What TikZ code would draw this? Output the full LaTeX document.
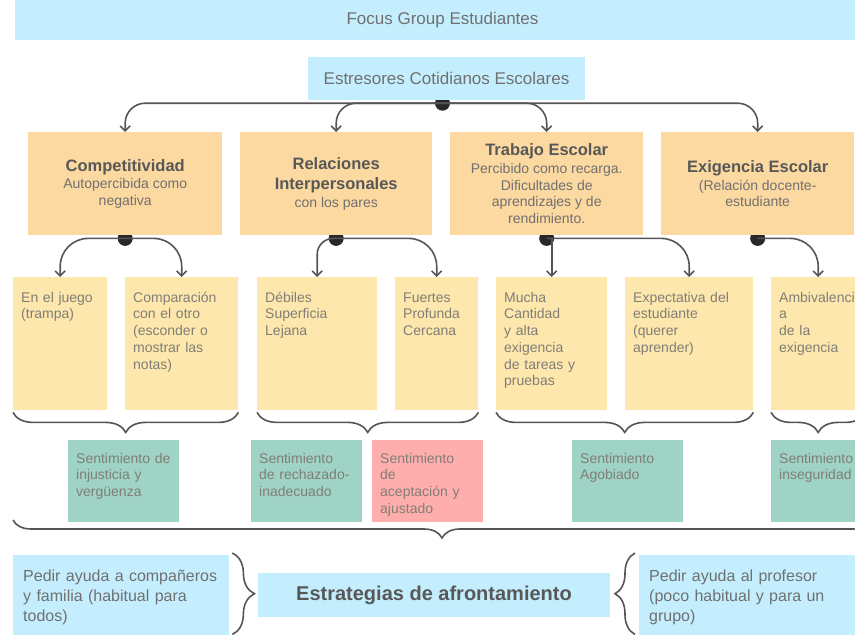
\documentclass[tikz,border=0pt]{standalone}
\usepackage{fontspec}
\setmainfont{Liberation Sans}
\usetikzlibrary{arrows.meta,positioning,backgrounds,decorations.pathreplacing}

\newcommand{\topictitle}[1]{{\color{headgray}\bfseries\fontsize{16.5}{19}\selectfont #1}}

\begin{document}
\begin{tikzpicture} [x=1pt, y=-1pt,
    banner/.style={fill=skyblue, inner sep=0pt, text=textgray, font=\fontsize{17}{20}\selectfont},
    topic/.style={fill=peach, anchor=north west, minimum height=103pt, inner sep=0pt, align=center, text=textgray, font=\fontsize{14}{16.7}\selectfont},
    leaf/.style={fill=butter, anchor=north west, align=left, inner sep=8pt, text height=17pt, text depth=100pt, text=leafgray, font=\fontsize{14}{16.7}\selectfont},
    feeling/.style={fill=#1, anchor=north west, align=left, inner sep=8pt, text width=95pt, text height=15pt, text depth=51pt, text=leafgray, font=\fontsize{14}{16.7}\selectfont},
    strategy/.style={fill=skyblue, anchor=north west, align=left, inner xsep=10pt, inner ysep=0pt, minimum height=85pt, text=textgray, font=\fontsize{16}{20}\selectfont},
    goal/.style={fill=skyblue, minimum width=352pt, minimum height=44pt, inner sep=0pt, text=headgray, font=\bfseries\fontsize{20}{24}\selectfont},
    hub/.style={circle, fill=hubgray, inner sep=0pt, minimum size=15pt},
    link/.style={draw=wire, line width=1.6pt, -{Straight Barb[length=5pt,width=10pt]}},
    bracket/.style={decorate, decoration={brace, amplitude=#1}, draw=wire, line width=1.6pt}
  ]

\definecolor{skyblue}{RGB}{196,238,254}
\definecolor{peach}{RGB}{252,217,160}
\definecolor{butter}{RGB}{253,231,172}
\definecolor{mint}{RGB}{158,211,198}
\definecolor{rose}{RGB}{255,174,174}
\definecolor{headgray}{RGB}{88,88,88}
\definecolor{textgray}{RGB}{112,112,112}
\definecolor{leafgray}{RGB}{128,126,118}
\definecolor{wire}{RGB}{85,85,85}
\definecolor{hubgray}{RGB}{40,40,40}

\useasboundingbox (0,0) rectangle (855,635);
\clip (0,0) rectangle (855,635);

% title boxes
\node[banner, minimum width=855pt, minimum height=40pt] (focus) at (442.5,20) {Focus Group Estudiantes};
\node[banner, minimum width=277pt, minimum height=43pt] (stress) at (446.5,78.5) {Estresores Cotidianos Escolares};

% stressors
\node[topic, minimum width=194pt] (comp) at (28,132) {\topictitle{Competitividad}\\[1pt]Autopercibida como\\negativa};
\node[topic, minimum width=192pt] (rel) at (240,132) {\topictitle{Relaciones}\\[4pt]\topictitle{Interpersonales}\\[1pt]con los pares};
\node[topic, minimum width=193pt] (trab) at (450,132) {\topictitle{Trabajo Escolar}\\[1pt]Percibido como recarga.\\Dificultades de\\aprendizajes y de\\rendimiento.};
\node[topic, minimum width=193pt] (exig) at (661,132) {\topictitle{Exigencia Escolar}\\[1pt](Relación docente-\\estudiante};

% details
\node[leaf, text width=78pt] (juego) at (13,277) {En el juego\\(trampa)};
\node[leaf, text width=97pt] (compar) at (125,277) {Comparación\\con el otro\\(esconder o\\mostrar las\\notas)};
\node[leaf, text width=104pt] (debiles) at (257,277) {Débiles\\Superficia\\Lejana};
\node[leaf, text width=67pt] (fuertes) at (395,277) {Fuertes\\Profunda\\Cercana};
\node[leaf, text width=95pt] (mucha) at (496,277) {Mucha\\Cantidad\\y alta\\exigencia\\de tareas y\\pruebas};
\node[leaf, text width=112pt] (expect) at (625,277) {Expectativa del\\estudiante\\(querer\\aprender)};
\node[leaf, text width=78pt] (ambiv) at (771,277) {Ambivalenci\\a\\de la\\exigencia};

% feelings
\node[feeling=mint] (injust) at (68,440) {Sentimiento de\\injusticia y\\vergüenza};
\node[feeling=mint] (rechaz) at (251,440) {Sentimiento\\de rechazado-\\inadecuado};
\node[feeling=rose] (acept) at (372,440) {Sentimiento\\de\\aceptación y\\ajustado};
\node[feeling=mint] (agob) at (572,440) {Sentimiento\\Agobiado};
\node[feeling=mint] (inseg) at (771,440) {Sentimiento\\inseguridad};

% coping
\node[strategy, text width=196pt] (famil) at (13,555) {Pedir ayuda a compañeros\\y familia (habitual para\\todos)};
\node[goal] (coping) at (434,595) {Estrategias de afrontamiento};
\node[strategy, text width=212pt] (prof) at (639,555) {Pedir ayuda al profesor\\(poco habitual y para un\\grupo)};

% dots
\begin{scope}[on background layer]
\node[hub] (hub0) at ([xshift=-4pt,yshift=-3pt]stress.south) {};
\node[hub] (hubA) at ([yshift=-3pt]comp.south) {};
\node[hub] (hubB) at ([yshift=-3pt]rel.south) {};
\node[hub] (hubC) at ([yshift=-3pt]trab.south) {};
\node[hub] (hubD) at ([yshift=-3pt]exig.south) {};
\end{scope}

% arrows
\draw[link, rounded corners=20pt] (hub0.center) -| (comp.north);
\draw[link, rounded corners=20pt] (hub0.center) -| (rel.north);
\draw[link, rounded corners=20pt] (hub0.center) -| (trab.north);
\draw[link, rounded corners=20pt] (hub0.center) -| (exig.north);

\draw[link, rounded corners=28pt] (hubA.center) -| (juego.north);
\draw[link, rounded corners=28pt] (hubA.center) -| (compar.north);
\draw[link, rounded corners=16pt] (hubB.center) -| (debiles.north);
\draw[link, rounded corners=28pt] (hubB.center) -| (fuertes.north);
\draw[link] (hubC.center -| mucha.north) -- (mucha.north);
\draw[link, rounded corners=28pt] (hubC.center) -| (expect.north);
\draw[link, rounded corners=28pt] (hubD.center) -| (ambiv.north);

% braces
\draw[bracket=20pt] ([yshift=-2pt]compar.south east) -- ([yshift=-2pt]juego.south west);
\draw[bracket=20pt] ([yshift=-2pt]fuertes.south east) -- ([yshift=-2pt]debiles.south west);
\draw[bracket=20pt] ([yshift=-2pt]expect.south east) -- ([yshift=-2pt]mucha.south west);
\draw[bracket=20pt] ([yshift=-2pt]ambiv.south east) -- ([yshift=-2pt]ambiv.south west);

\coordinate (feelEnd) at (871,520);
\draw[bracket=18pt] (feelEnd) -- (juego.west |- feelEnd);

\draw[bracket=22pt] ([xshift=3pt,yshift=2pt]famil.north east) -- ([xshift=3pt,yshift=6pt]famil.south east);
\draw[bracket=20pt] ([xshift=-4pt,yshift=6pt]prof.south west) -- ([xshift=-4pt,yshift=2pt]prof.north west);

\end{tikzpicture}
\end{document}
